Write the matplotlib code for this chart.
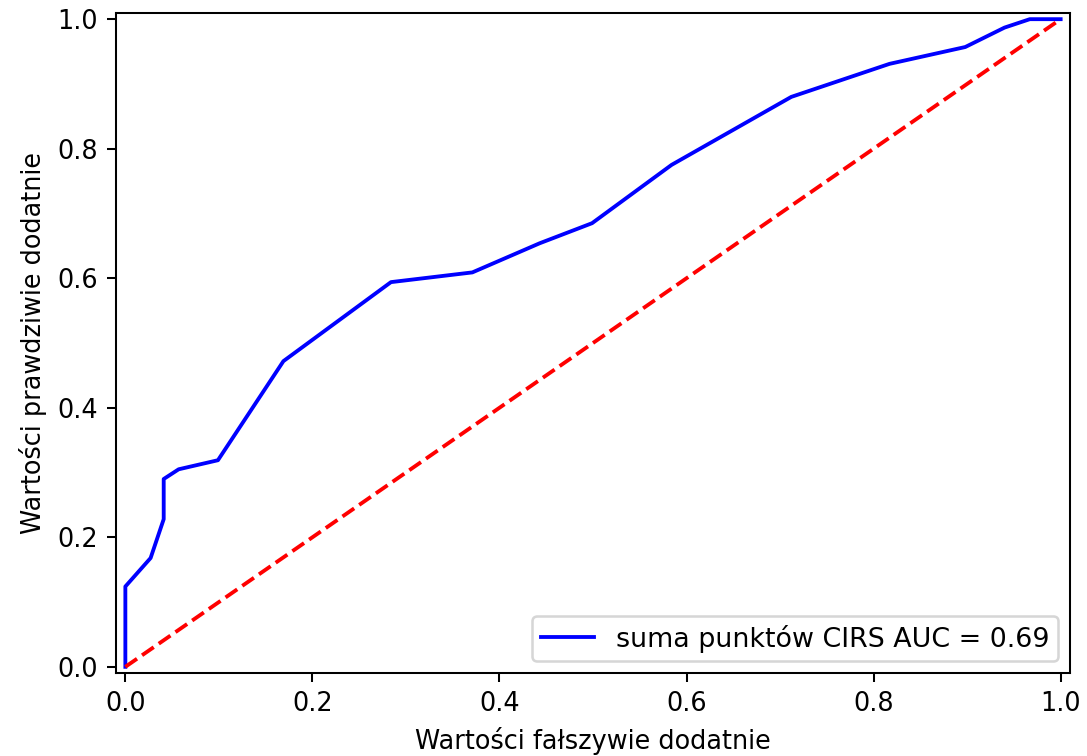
import matplotlib
matplotlib.use("Agg")
import matplotlib.pyplot as plt

fpr = [0.0, 0.0, 0.027, 0.041, 0.041, 0.057, 0.099, 0.169, 0.284, 0.371,
       0.443, 0.499, 0.584, 0.712, 0.817, 0.898, 0.940, 0.967, 1.0]
tpr = [0.0, 0.124, 0.168, 0.228, 0.290, 0.305, 0.319, 0.472, 0.594, 0.609,
       0.654, 0.685, 0.775, 0.880, 0.931, 0.957, 0.987, 1.0, 1.0]
diag = [0, 1]
label = "suma punktów CIRS AUC = 0.69"

dpi = 184
fig = plt.figure(figsize=(1087 / dpi, 756 / dpi), dpi=dpi)
ax = fig.add_axes([116 / 1087, (756 - 673.3) / 756, 954 / 1087, 660.6 / 756])
ax.plot(fpr, tpr, color="b", label=label)
ax.plot(diag, diag, "r--")
ax.set_xlim(-0.01, 1.01)
ax.set_ylim(-0.01, 1.01)
ax.set_xlabel("Wartości fałszywie dodatnie")
ax.set_ylabel("Wartości prawdziwie dodatnie")
ax.legend(loc="lower right", fontsize=10.5, borderpad=0.32, borderaxespad=0.45)
fig.savefig("out.png", dpi=dpi)
